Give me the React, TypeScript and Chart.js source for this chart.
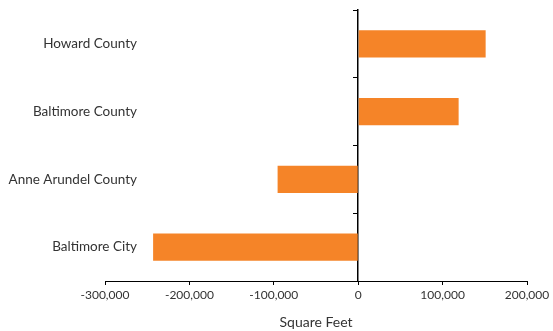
import React, { useEffect, useRef } from "react";
import { Chart, registerables } from "chart.js";

Chart.register(...registerables);

const categories = ["Howard County", "Baltimore County", "Anne Arundel County", "Baltimore City"];
const squareFeet = [151000, 119000, -95500, -243000];
const xMin = -300000;
const xMax = 200000;
const xStep = 100000;
const xTitle = "Square Feet";

const FONT = "Lato, 'Open Sans', sans-serif";
const TEXT = "#333333";
const LABEL_SIZE = 13.5;

export default function App() {
  const ref = useRef<HTMLCanvasElement | null>(null);
  useEffect(() => {
    if (!ref.current) return;
    const mctx = document.createElement("canvas").getContext("2d")!;
    mctx.font = `normal ${LABEL_SIZE}px ${FONT}`;
    const widest = Math.max(...categories.map((c) => mctx.measureText(c).width));
    const chart = new Chart(ref.current, {
      type: "bar",
      data: {
        labels: categories,
        datasets: [
          {
            data: squareFeet,
            backgroundColor: "#F58428",
            borderWidth: 0,
            barPercentage: 0.4,
            categoryPercentage: 1,
            yAxisID: "y",
            xAxisID: "x",
          },
        ],
      },
      options: {
        indexAxis: "y",
        animation: false,
        responsive: true,
        maintainAspectRatio: false,
        layout: { padding: { top: 10, right: 26, left: 0, bottom: 0 } },
        plugins: { legend: { display: false }, tooltip: { enabled: false } },
        scales: {
          x: {
            type: "linear",
            position: "bottom",
            min: xMin,
            max: xMax,
            ticks: {
              stepSize: xStep,
              color: TEXT,
              font: { family: FONT, size: 12 },
              padding: 3,
              maxRotation: 0,
            },
            grid: { drawOnChartArea: false, drawTicks: true, tickLength: 4, color: "#000" },
            border: { display: true, color: "#000", width: 1 },
            title: {
              display: true,
              text: xTitle,
              color: TEXT,
              font: { family: FONT, size: 14 },
              padding: { top: 0, bottom: 0 },
            },
            afterFit: (scale: any) => {
              scale.height = 50;
            },
          },
          y: {
            type: "category",
            position: "left",
            offset: true,
            grid: { display: false, offset: true },
            border: { display: false },
            ticks: {
              color: TEXT,
              font: { family: FONT, size: LABEL_SIZE },
              mirror: true,
              crossAlign: "far",
              padding: 32 - widest,
            },
            afterFit: (scale: any) => {
              scale.width = 105;
            },
          },
          y2: {
            type: "category",
            axis: "y",
            position: { x: 0 },
            offset: true,
            grid: { display: true, offset: true, drawOnChartArea: false, drawTicks: true, tickLength: 4, color: "#000" },
            border: { display: true, color: "#000", width: 1.5 },
            ticks: { display: false },
          },
        },
      } as any,
    });
    return () => chart.destroy();
  }, []);
  return (
    <div style={{ position: "fixed", left: 0, top: 0, width: 553, height: 331, background: "#fff" }}>
      <canvas ref={ref} />
    </div>
  );
}
